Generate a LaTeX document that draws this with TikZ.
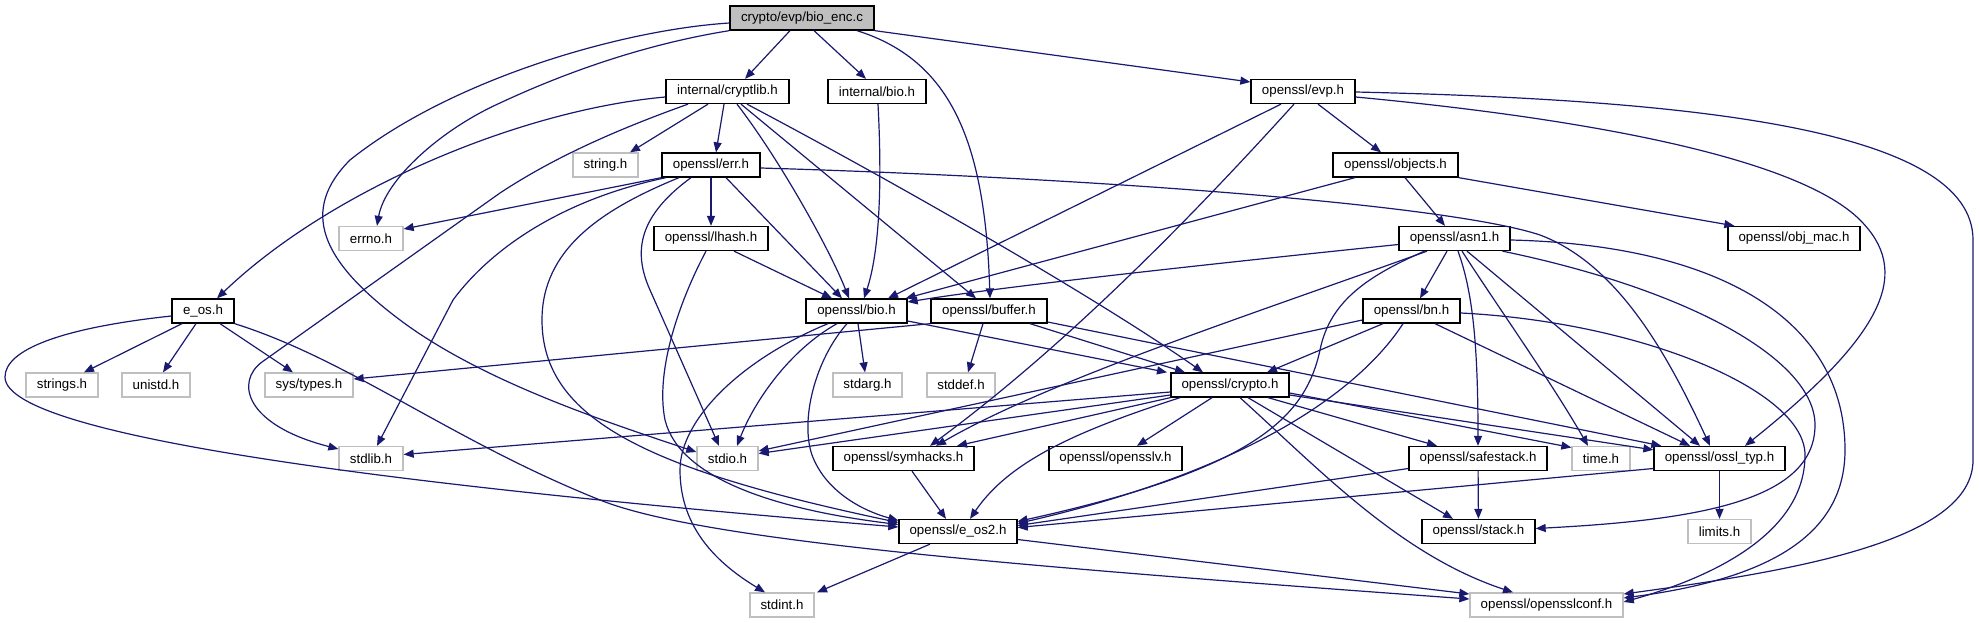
\documentclass[tikz,border=0pt]{standalone}
\usepackage{fontspec}
\setmainfont{Liberation Sans}
\usetikzlibrary{arrows.meta}
\definecolor{edgeblue}{HTML}{191970}
\definecolor{lgray}{HTML}{BFBFBF}
\begin{document}
\begin{tikzpicture}[x=1pt,y=-1pt,
  box/.style={draw=black, line width=1.3pt, inner sep=0pt, minimum height=24pt, font=\fontsize{13.3}{16}\selectfont},
  gbox/.style={box, draw=lgray},
  rootbox/.style={box, fill=lgray},
  edge/.style={draw=edgeblue, line width=1.2pt, -{Triangle[length=10pt,width=8pt]}}]
\useasboundingbox (0,0) rectangle (1980,623);
\fill[white] (0,0) rectangle (1980,623);
% nodes
\node[rootbox, minimum width=144pt] (root) at (802,18) {crypto/evp/bio\_enc.c};
\node[box, minimum width=123pt] (cryptlib) at (727.5,91.5) {internal/cryptlib.h};
\node[box, minimum width=98pt] (ibio) at (877,91.5) {internal/bio.h};
\node[box, minimum width=104pt] (evp) at (1303,91.5) {openssl/evp.h};
\node[gbox, minimum width=65pt] (string) at (605.5,165) {string.h};
\node[box, minimum width=98pt] (err) at (711,165) {openssl/err.h};
\node[box, minimum width=125pt] (objects) at (1395.5,165) {openssl/objects.h};
\node[gbox, minimum width=64pt] (errno) at (371,238.5) {errno.h};
\node[box, minimum width=114pt] (lhash) at (711,238.5) {openssl/lhash.h};
\node[box, minimum width=111pt] (asn1) at (1454.5,238.5) {openssl/asn1.h};
\node[box, minimum width=132pt] (objmac) at (1794,238.5) {openssl/obj\_mac.h};
\node[box, minimum width=62pt] (eos) at (203,311) {e\_os.h};
\node[box, minimum width=101pt] (bio) at (856.5,311) {openssl/bio.h};
\node[box, minimum width=116pt] (buffer) at (989,311) {openssl/buffer.h};
\node[box, minimum width=97pt] (bn) at (1411.5,311) {openssl/bn.h};
\node[gbox, minimum width=72pt] (strings) at (62,385) {strings.h};
\node[gbox, minimum width=68pt] (unistd) at (156,385) {unistd.h};
\node[gbox, minimum width=88pt] (systypes) at (309,385) {sys/types.h};
\node[gbox, minimum width=69pt] (stdarg) at (867.5,385) {stdarg.h};
\node[gbox, minimum width=68pt] (stddef) at (961,385) {stddef.h};
\node[box, minimum width=118pt] (crypto) at (1230,385) {openssl/crypto.h};
\node[gbox, minimum width=64pt] (stdlib) at (371,458.5) {stdlib.h};
\node[gbox, minimum width=61pt] (stdio) at (727.5,458.5) {stdio.h};
\node[box, minimum width=141pt] (symhacks) at (903.5,458.5) {openssl/symhacks.h};
\node[box, minimum width=133pt] (opensslv) at (1115.5,458.5) {openssl/opensslv.h};
\node[box, minimum width=138pt] (safestack) at (1478,458.5) {openssl/safestack.h};
\node[gbox, minimum width=58pt] (time) at (1601,458.5) {time.h};
\node[box, minimum width=131pt] (ossltyp) at (1719.5,458.5) {openssl/ossl\_typ.h};
\node[box, minimum width=118pt] (eos2) at (958,531.5) {openssl/e\_os2.h};
\node[box, minimum width=113pt] (stack) at (1478.5,531.5) {openssl/stack.h};
\node[gbox, minimum width=63pt] (limits) at (1719.5,531.5) {limits.h};
\node[gbox, minimum width=64pt] (stdint) at (782,605) {stdint.h};
\node[gbox, minimum width=153pt] (conf) at (1546.5,605) {openssl/opensslconf.h};
% root edges
\draw[edge] (root.south west) .. controls (640,45) and (560,75) .. (500,103) .. controls (440,130) and (385,180) .. ([xshift=6pt]errno.north);
\draw[edge] ([yshift=-5pt]root.west) .. controls (620,30) and (450,80) .. (350,160) .. controls (300,210) and (320,260) .. (400,320) .. controls (480,380) and (600,420) .. ([yshift=6.5pt]stdio.west);
\draw[edge] ([xshift=-12pt]root.south) -- ([xshift=17.5pt]cryptlib.north);
\draw[edge] ([xshift=12pt]root.south) -- ([xshift=-11pt]ibio.north);
\draw[edge] ([xshift=55pt]root.south) .. controls (950,60) and (985,140) .. ([xshift=1pt]buffer.north);
\draw[edge] (root.south east) -- ([yshift=9.5pt]evp.west);
% cryptlib
\draw[edge] ([yshift=-5.5pt]cryptlib.west) .. controls (520,110) and (330,190) .. ([xshift=14pt]eos.north);
\draw[edge] ([xshift=-39.5pt]cryptlib.south) .. controls (610,132) and (550,160) .. (500,193) -- (262,362) .. controls (235,382) and (245,425) .. ([yshift=9.5pt]stdlib.west);
\draw[edge] ([xshift=-19.5pt]cryptlib.south) -- ([xshift=24.5pt]string.north);
\draw[edge] ([xshift=-3.5pt]cryptlib.south) -- ([xshift=5pt]err.north);
\draw[edge] ([xshift=9.5pt]cryptlib.south) .. controls (780,160) and (830,250) .. ([xshift=-7.5pt]bio.north);
\draw[edge] ([xshift=13.5pt]cryptlib.south) -- ([xshift=-13pt]buffer.north);
\draw[edge] ([xshift=19.5pt]cryptlib.south) .. controls (900,185) and (1100,300) .. ([xshift=-27pt]crypto.north);
% e_os
\draw[edge] ([xshift=-21pt]eos.south) -- ([xshift=22pt]strings.north);
\draw[edge] ([xshift=-7pt]eos.south) -- ([xshift=7pt]unistd.north);
\draw[edge] ([xshift=17pt]eos.south) -- ([xshift=-16pt]systypes.north);
\draw[edge] ([yshift=-5pt]eos.west) .. controls (60,328) and (5,350) .. (5,377) .. controls (5,440) and (450,490) .. ([yshift=4.5pt]eos2.west);
\draw[edge] (eos.south east) .. controls (350,360) and (450,440) .. (600,500) .. controls (700,540) and (1000,565) .. ([yshift=6pt]conf.west);
% err
\draw[edge] (err.south west) -- ([yshift=9.5pt]errno.east);
\draw[edge] ([xshift=-45pt]err.south) .. controls (560,200) and (490,250) .. (453,300) -- ([xshift=6pt]stdlib.north);
\draw[edge] ([xshift=-32pt]err.south) .. controls (600,210) and (542,250) .. (542,320) .. controls (542,420) and (650,470) .. ([yshift=9pt]eos2.west);
\draw[edge] ([xshift=-20pt]err.south) .. controls (640,215) and (632,250) .. (650,290) -- ([xshift=-8.5pt]stdio.north);
\draw[edge] (err) -- (lhash);
\draw[edge] ([xshift=15pt]err.south) -- ([xshift=-14.5pt]bio.north);
\draw[edge] ([yshift=-3pt]err.east) .. controls (1100,178) and (1450,205) .. (1540,235) .. controls (1620,265) and (1670,360) .. ([xshift=-9.5pt]ossltyp.north);
% lhash
\draw[edge] ([xshift=23pt]lhash.south) -- ([xshift=-24.5pt]bio.north);
\draw[edge] ([xshift=-5pt]lhash.south) .. controls (680,300) and (655,370) .. (665,420) .. controls (680,480) and (780,510) .. ([yshift=7pt]eos2.west);
% internal/bio
\draw[edge] ([xshift=1pt]ibio.south) .. controls (882,180) and (880,250) .. ([xshift=7.5pt]bio.north);
% bio
\draw[edge] ([xshift=-28.5pt]bio.south) .. controls (740,360) and (680,420) .. (680,470) .. controls (680,530) and (720,565) .. ([xshift=-17pt]stdint.north);
\draw[edge] ([xshift=-19.5pt]bio.south) .. controls (790,350) and (755,400) .. ([xshift=9.5pt]stdio.north);
\draw[edge] ([xshift=-9.5pt]bio.south) .. controls (815,360) and (800,420) .. (812,455) .. controls (825,490) and (860,510) .. ([yshift=11pt]eos2.west);
\draw[edge] ([xshift=1.5pt]bio.south) -- ([xshift=-2.5pt]stdarg.north);
\draw[edge] ([yshift=-10pt]bio.east) -- ([xshift=-63pt]crypto.north);
% buffer
\draw[edge] (buffer.south west) -- ([yshift=6pt]systypes.east);
\draw[edge] ([xshift=-6pt]buffer.south) -- ([xshift=7pt]stddef.north);
\draw[edge] ([xshift=41pt]buffer.south) -- ([xshift=-45pt]crypto.north);
\draw[edge] ([yshift=-11pt]buffer.east) -- ([xshift=8pt]ossltyp.north west);
% crypto
\draw[edge] ([yshift=-7pt]crypto.west) -- ([yshift=4pt]stdlib.east);
\draw[edge] ([yshift=-10pt]crypto.west) -- ([yshift=5pt]stdio.east);
\draw[edge] (crypto.south west) -- ([xshift=53.5pt]symhacks.north);
\draw[edge] ([xshift=-18pt]crypto.south) -- ([xshift=21.5pt]opensslv.north);
\draw[edge] ([xshift=-50pt]crypto.south) .. controls (1080,430) and (1010,460) .. ([xshift=12pt]eos2.north);
\draw[edge] ([xshift=38pt]crypto.south) -- ([xshift=-41pt]safestack.north);
\draw[edge] ([xshift=18pt]crypto.south) -- ([xshift=-25.5pt]stack.north);
\draw[edge] ([xshift=10pt]crypto.south) .. controls (1320,470) and (1400,555) .. ([xshift=-33.5pt]conf.north);
\draw[edge] ([yshift=-8pt]crypto.east) -- ([yshift=11pt]time.west);
\draw[edge] ([yshift=-10pt]crypto.east) -- ([yshift=-4pt]ossltyp.north west);
% evp
\draw[edge] ([xshift=-22pt]evp.south) -- ([xshift=31.5pt]bio.north);
\draw[edge] ([xshift=-9pt]evp.south) .. controls (1180,230) and (1060,350) .. ([xshift=26.5pt]symhacks.north);
\draw[edge] ([xshift=15pt]evp.south) -- ([xshift=-14.5pt]objects.north);
\draw[edge] ([yshift=-5.5pt]evp.east) .. controls (1600,120) and (1800,160) .. (1860,220) .. controls (1910,270) and (1890,330) .. ([xshift=25.5pt]ossltyp.north);
\draw[edge] ([yshift=-0.5pt]evp.east) .. controls (1700,100) and (1973,130) .. (1973,240) -- (1973,460) .. controls (1973,540) and (1800,570) .. ([yshift=11pt]conf.east);
% objects
\draw[edge] ([xshift=-40.5pt]objects.south) -- ([xshift=-2pt]bio.north east);
\draw[edge] ([xshift=9.5pt]objects.south) -- ([xshift=-9.5pt]asn1.north);
\draw[edge] (objects.south east) -- ([xshift=7pt]objmac.north west);
% asn1
\draw[edge] ([yshift=-6pt]asn1.west) .. controls (1200,265) and (1000,287) .. ([yshift=9pt]bio.east);
\draw[edge] ([xshift=-27.5pt]asn1.south) .. controls (1250,315) and (1050,380) .. ([xshift=32.5pt]symhacks.north);
\draw[edge] ([xshift=-30pt]asn1.south) .. controls (1370,275) and (1330,300) .. (1320,350) .. controls (1305,420) and (1250,470) .. ([yshift=10pt]eos2.east);
\draw[edge] ([xshift=-7.5pt]asn1.south) -- ([xshift=8.5pt]bn.north);
\draw[edge] ([xshift=3.5pt]asn1.south) .. controls (1472,290) and (1478,340) .. (safestack.north);
\draw[edge] ([xshift=7.5pt]asn1.south) .. controls (1500,310) and (1550,380) .. ([xshift=-13pt]time.north);
\draw[edge] ([xshift=12.5pt]asn1.south) -- ([xshift=-19.5pt]ossltyp.north);
\draw[edge] ([yshift=-1.5pt]asn1.east) .. controls (1720,245) and (1845,320) .. (1845,450) .. controls (1845,540) and (1760,580) .. ([yshift=7pt]conf.east);
\draw[edge] ([xshift=48pt]asn1.south) .. controls (1690,290) and (1815,360) .. (1815,425) .. controls (1815,500) and (1700,520) .. ([yshift=3pt]stack.east);
% bn
\draw[edge] ([xshift=-28.5pt]bn.south) -- ([xshift=37pt]crypto.north);
\draw[edge] ([yshift=-9pt]bn.west) -- ([yshift=7.5pt]stdio.east);
\draw[edge] ([xshift=-8.5pt]bn.south) .. controls (1360,390) and (1250,470) .. ([yshift=8pt]eos2.east);
\draw[edge] ([xshift=23.5pt]bn.south) -- ([xshift=-29.5pt]ossltyp.north);
\draw[edge] ([yshift=-2pt]bn.east) .. controls (1640,322) and (1805,390) .. (1805,455) .. controls (1805,530) and (1720,575) .. ([yshift=3pt]conf.east);
% safestack, symhacks, ossl_typ, e_os2
\draw[edge] (safestack) -- (stack);
\draw[edge] ([yshift=-10pt]safestack.west) -- ([yshift=6pt]eos2.east);
\draw[edge] ([xshift=8.5pt]symhacks.south) -- ([xshift=-12pt]eos2.north);
\draw[edge] (ossltyp) -- (limits);
\draw[edge] ([yshift=-10pt]ossltyp.west) -- ([yshift=4pt]eos2.east);
\draw[edge] ([xshift=-28pt]eos2.south) -- ([xshift=35pt]stdint.north);
\draw[edge] ([yshift=-8pt]eos2.east) -- ([yshift=11pt]conf.west);
\end{tikzpicture}
\end{document}
